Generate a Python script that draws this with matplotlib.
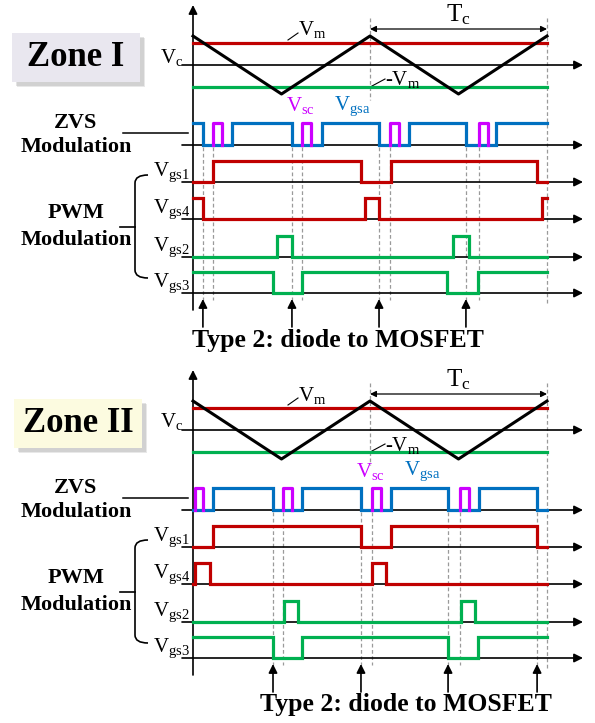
import matplotlib.pyplot as plt
from matplotlib.patches import FancyBboxPatch, PathPatch
from matplotlib.path import Path

plt.rcParams['font.family'] = ['Liberation Serif', 'DejaVu Serif']
plt.rcParams['mathtext.fontset'] = 'custom'
plt.rcParams['mathtext.rm'] = 'Liberation Serif'

RED = '#c00000'
GREEN = '#00b050'
BLUE = '#0070c0'
MAG = '#cc00ff'
DASH = '#9a9a9a'

# time is in units of the carrier period Tc, t=0 at the vertical axis
carrier_t = [0, 0.5, 1, 1.5, 2]
carrier_v = [1, -1, 1, -1, 1]
vm = 0.77
t_end = 2.0

# ---- Zone I ----
z1_vgsa_start = 1
z1_vgsa_edges = [0.056, 0.220, 0.559, 0.729, 1.051, 1.220, 1.542, 1.712]
z1_vsc = [(0.113, 0.164), (0.616, 0.667), (1.113, 1.164), (1.616, 1.667)]
z1_vgs1 = (0, [0.113, 0.949, 1.119, 1.944])
z1_vgs4 = (1, [0.056, 0.972, 1.051, 1.972])
z1_vgs2 = (0, [0.475, 0.559, 1.469, 1.559])
z1_vgs3 = (1, [0.452, 0.616, 1.435, 1.610])
z1_arrows = [0.056, 0.559, 1.051, 1.542]
z1_dashes = [0.056, 0.113, 0.559, 0.616, 1.051, 1.113, 1.542, 1.616]

# ---- Zone II ----
z2_vgsa_start = 0
z2_vgsa_edges = [0.113, 0.452, 0.616, 0.949, 1.119, 1.441, 1.616, 1.944]
z2_vsc = [(0.011, 0.056), (0.508, 0.559), (1.011, 1.062), (1.508, 1.559)]
z2_vgs1 = (0, [0.113, 0.949, 1.119, 1.944])
z2_vgs4 = (0, [0.011, 0.096, 1.011, 1.090])
z2_vgs2 = (0, [0.514, 0.593, 1.514, 1.593])
z2_vgs3 = (1, [0.452, 0.616, 1.441, 1.610])
z2_arrows = [0.452, 0.949, 1.441, 1.944]
z2_dashes = [0.452, 0.508, 0.949, 1.011, 1.441, 1.508, 1.944]

# layout (pixels)
X0 = 193
TC_PX = 177
X_LEFT = 182
X_ARROW = 583


def tx(t):
    return X0 + t * TC_PX


def step_xy(start, edges):
    xs, ys, lvl = [0], [start], start
    for e in edges:
        xs += [e, e]
        ys += [lvl, 1 - lvl]
        lvl = 1 - lvl
    xs.append(t_end)
    ys.append(lvl)
    return xs, ys


def haxis(ax, y):
    ax.annotate('', xy=(X_ARROW, y), xytext=(X_LEFT, y),
                arrowprops=dict(arrowstyle='-|>', lw=1.2, color='k',
                                mutation_scale=13, shrinkA=0, shrinkB=0))


def wave(ax, base, amp, start, edges, color):
    xs, ys = step_xy(start, edges)
    ax.plot([tx(x) for x in xs], [base - amp * y for y in ys],
            color=color, lw=2.3, solid_joinstyle='miter', zorder=4)


def draw_zone(ax, dy, title, boxcol, vgsa_start, vgsa_edges, vsc, rows,
              arrows, dashes, vsc_x, type_x):
    # box with shadow
    bx, by = (12, 33) if dy == 0 else (14, 399 - 365)
    for off, a in [(5, 0.18), (3.5, 0.22)]:
        ax.add_patch(FancyBboxPatch((bx + off, by + dy + off), 128, 49,
                                    boxstyle='square,pad=0', fc='#808080',
                                    ec='none', alpha=a, zorder=1))
    ax.add_patch(FancyBboxPatch((bx, by + dy), 128, 49, boxstyle='square,pad=0',
                                fc=boxcol, ec='none', zorder=2))
    ax.text(bx + 64, by + dy + 25, title, ha='center', va='center',
            fontsize=25, fontweight='bold', zorder=3)

    # vertical axis
    ax.annotate('', xy=(X0, 5 + dy), xytext=(X0, 310 + dy),
                arrowprops=dict(arrowstyle='-|>', lw=1.2, color='k',
                                mutation_scale=13, shrinkA=0, shrinkB=0))

    # carrier part
    yc = 65 + dy
    camp = 29
    haxis(ax, yc)
    ax.plot([tx(0), tx(t_end)], [yc - camp * vm] * 2, color=RED, lw=2.3, zorder=3)
    ax.plot([tx(0), tx(t_end)], [yc + camp * vm] * 2, color=GREEN, lw=2.3, zorder=3)
    ax.plot([tx(t) for t in carrier_t], [yc - camp * v for v in carrier_v],
            color='k', lw=2.2, zorder=4)
    ax.text(183, yc - 8, r'$\mathregular{V_c}$', ha='right', va='center', fontsize=15)
    ax.plot([288, 298], [yc - 25, yc - 32], color='k', lw=0.8)
    ax.text(298, yc - 35, r'$\mathregular{V_m}$', ha='left', va='center', fontsize=15)
    ax.plot([372, 385], [yc + 21, yc + 14], color='k', lw=0.8)
    ax.text(385, yc + 15, r'$\mathregular{\text{-}V_m}$', ha='left', va='center', fontsize=15)

    # Tc marker
    ax.plot([tx(1)] * 2, [18 + dy, 100 + dy], color=DASH, lw=0.9, ls=(0, (3, 2)))
    ax.plot([tx(2)] * 2, [18 + dy, 305 + dy], color=DASH, lw=0.9, ls=(0, (3, 2)))
    ax.annotate('', xy=(tx(1), 29 + dy), xytext=(tx(2), 29 + dy),
                arrowprops=dict(arrowstyle='<|-|>', lw=0.9, color='k',
                                mutation_scale=9, shrinkA=0, shrinkB=0))
    ax.text(tx(1.5), 15 + dy, r'$\mathregular{T_c}$', ha='center', va='center',
            fontsize=18)

    # ZVS modulation row
    zb = 145 + dy
    haxis(ax, zb)
    wave(ax, zb, 22, vgsa_start, vgsa_edges, BLUE)
    for a, b in vsc:
        ax.plot([tx(a), tx(a), tx(b), tx(b)], [zb, zb - 22, zb - 22, zb],
                color=MAG, lw=2.3, zorder=5)
    ax.text(vsc_x, 106 + dy, r'$\mathregular{V_{sc}}$', color=MAG, ha='center',
            va='center', fontsize=15)
    ax.text(vsc_x + 52, 106 + dy, r'$\mathregular{V_{gsa}}$', color=BLUE, ha='center',
            va='center', fontsize=15)
    ax.text(76, 123 + dy, 'ZVS', ha='center', va='center', fontsize=16,
            fontweight='bold')
    ax.text(76, 147 + dy, 'Modulation', ha='center', va='center', fontsize=16,
            fontweight='bold')
    ax.plot([123, 188], [133 + dy, 133 + dy], color='k', lw=1.1)

    # PWM rows
    bases = [182, 219, 257, 293]
    names = ['1', '4', '2', '3']
    colors = [RED, RED, GREEN, GREEN]
    for (start, edges), b, n, c in zip(rows, bases, names, colors):
        haxis(ax, b + dy)
        wave(ax, b + dy, 21, start, edges, c)
        ax.text(190, b + dy - 10, r'$\mathregular{V_{gs' + n + '}}$', ha='right',
                va='center', fontsize=15)

    # brace
    yt, ym, yb = 175 + dy, 227 + dy, 278 + dy
    verts = [(148, yt), (135, yt), (135, yt + 8), (135, yb - 8), (135, yb), (148, yb)]
    codes = [Path.MOVETO, Path.CURVE3, Path.CURVE3, Path.LINETO, Path.CURVE3, Path.CURVE3]
    ax.add_patch(PathPatch(Path(verts, codes), fc='none', ec='k', lw=1.2))
    ax.plot([120, 135], [ym, ym], color='k', lw=1.2)
    ax.text(76, 213 + dy, 'PWM', ha='center', va='center', fontsize=16,
            fontweight='bold')
    ax.text(76, 240 + dy, 'Modulation', ha='center', va='center', fontsize=16,
            fontweight='bold')

    # dashed guides and arrows
    for t in dashes:
        ax.plot([tx(t)] * 2, [147 + dy, 300 + dy], color=DASH, lw=0.9,
                ls=(0, (3, 2)), zorder=1)
    for t in arrows:
        ax.annotate('', xy=(tx(t), 299 + dy), xytext=(tx(t), 327 + dy),
                    arrowprops=dict(arrowstyle='-|>', lw=1.2, color='k',
                                    mutation_scale=13, shrinkA=0, shrinkB=0))
    ax.text(type_x, 340 + dy, 'Type 2: diode to MOSFET', ha='center', va='center',
            fontsize=18.5, fontweight='bold')


fig = plt.figure(figsize=(5.95, 7.23), dpi=100)
ax = fig.add_axes([0, 0, 1, 1])
ax.set_xlim(0, 595)
ax.set_ylim(723, 0)
ax.axis('off')

draw_zone(ax, 0, 'Zone I', '#e9e7ef', z1_vgsa_start, z1_vgsa_edges, z1_vsc,
          [z1_vgs1, z1_vgs4, z1_vgs2, z1_vgs3], z1_arrows, z1_dashes, 300, 338)
draw_zone(ax, 365, 'Zone II', '#fcfbe0', z2_vgsa_start, z2_vgsa_edges, z2_vsc,
          [z2_vgs1, z2_vgs4, z2_vgs2, z2_vgs3], z2_arrows, z2_dashes, 370, 406)

fig.savefig('out.png', dpi=100)
